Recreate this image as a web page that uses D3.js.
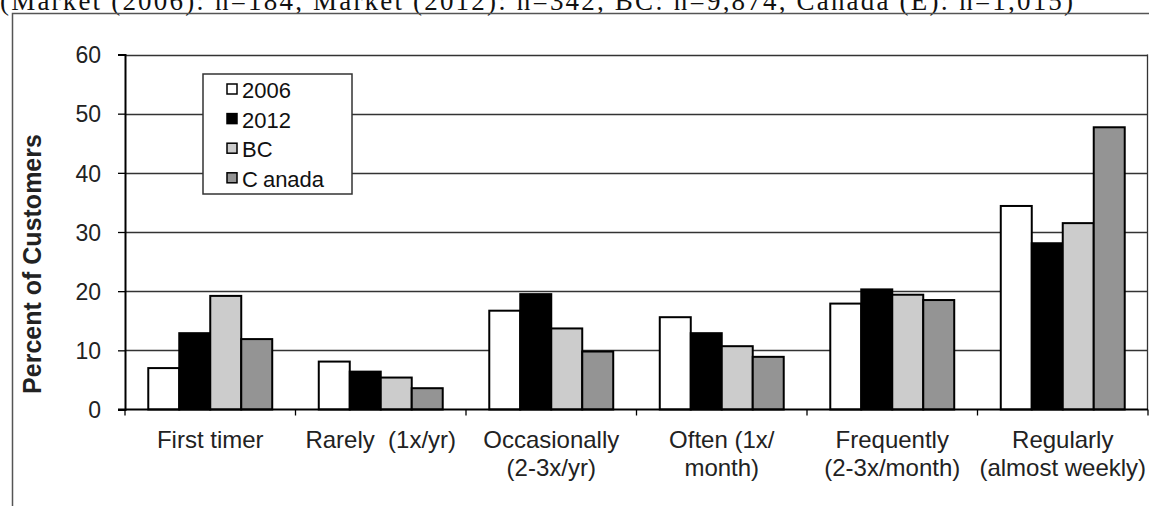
<!DOCTYPE html>
<html><head><meta charset="utf-8">
<script src="https://cdn.jsdelivr.net/npm/d3@7"></script>
<style>html,body{margin:0;padding:0;background:#fff;overflow:hidden}</style>
</head><body>
<script>
const categories = [
  ["First timer"],
  ["Rarely  (1x/yr)"],
  ["Occasionally", "(2-3x/yr)"],
  ["Often (1x/", "month)"],
  ["Frequently", "(2-3x/month)"],
  ["Regularly", "(almost weekly)"]
];
const seriesNames = ["2006", "2012", "BC", "Canada"];
const values2006   = [7.0, 8.1, 16.7, 15.6, 17.9, 34.4];
const values2012   = [12.9, 6.4, 19.5, 12.9, 20.3, 28.1];
const valuesBC     = [19.2, 5.4, 13.7, 10.7, 19.4, 31.5];
const valuesCanada = [11.9, 3.6, 9.8, 8.9, 18.5, 47.7];
const yTicks = [0, 10, 20, 30, 40, 50, 60];
const headerText = "(Market (2006): n=184, Market (2012): n=342, BC: n=9,874, Canada (E): n=1,015)";

const colors = ["#ffffff", "#000000", "#cccccc", "#949494"];
const seriesValues = [values2006, values2012, valuesBC, valuesCanada];

const W = 1149, H = 506;
const svg = d3.select("body").append("svg").attr("width", W).attr("height", H);

// header (cut off at top, as in the reference)
svg.append("text").attr("x", 0).attr("y", 10)
  .attr("font-family", "Liberation Serif, Times New Roman, serif")
  .attr("font-size", 27).attr("fill", "#111")
  .attr("textLength", 1073).attr("lengthAdjust", "spacing")
  .text(headerText);

// outer frame
svg.append("path").attr("d", `M12.5,${H} V13.5 H${W}`)
  .attr("fill", "none").attr("stroke", "#555").attr("stroke-width", 1.5);

const x0 = 125, x1 = 1148, yTop = 54.5, yBot = 409.5;
const cats = categories.map(c => c.join(" "));
const x = d3.scaleBand().domain(cats).range([x0, x1]).paddingInner(0.273).paddingOuter(0.1365);
const xs = d3.scaleBand().domain(seriesNames).range([0, x.bandwidth()]);
const y = d3.scaleLinear().domain([0, 60]).range([yBot, yTop]);

// gridlines
svg.append("g").selectAll("line").data(yTicks.filter(d => d > 0)).join("line")
  .attr("x1", x0).attr("x2", x1)
  .attr("y1", d => Math.round(y(d)) + 0.5).attr("y2", d => Math.round(y(d)) + 0.5)
  .attr("stroke", "#333").attr("stroke-width", 1.3);

// right border of plot
svg.append("line").attr("x1", x1 - 0.5).attr("x2", x1 - 0.5).attr("y1", yTop).attr("y2", yBot)
  .attr("stroke", "#333").attr("stroke-width", 1.3);

// bars
const g = svg.append("g");
seriesNames.forEach((s, si) => {
  g.append("g").selectAll("rect").data(seriesValues[si]).join("rect")
    .attr("x", (d, i) => x(cats[i]) + xs(s))
    .attr("y", d => y(d))
    .attr("width", xs.bandwidth())
    .attr("height", d => yBot - y(d))
    .attr("fill", colors[si])
    .attr("stroke", "#000").attr("stroke-width", 2);
});

// y axis
const yAxis = svg.append("g").attr("transform", `translate(${x0},0)`)
  .call(d3.axisLeft(y).tickValues(yTicks).tickSize(7).tickPadding(0).tickFormat(d3.format("d")));
yAxis.select(".domain").attr("stroke", "#000").attr("stroke-width", 2);
yAxis.selectAll(".tick line").attr("stroke", "#000").attr("stroke-width", 1.3);
yAxis.selectAll(".tick text").attr("x", -24).attr("dy", "0.36em")
  .attr("font-family", "Liberation Sans, Arial, sans-serif").attr("font-size", 23).attr("fill", "#222");

// x axis
const xAxisG = svg.append("g").attr("transform", `translate(0,${yBot})`);
xAxisG.append("line").attr("x1", x0 - 7).attr("x2", x1).attr("y1", 0).attr("y2", 0)
  .attr("stroke", "#000").attr("stroke-width", 2);
const boundaries = d3.range(cats.length + 1).map(i => x0 + i * x.step());
xAxisG.selectAll(".bt").data(boundaries).join("line").attr("class", "bt")
  .attr("x1", d => d).attr("x2", d => d).attr("y1", 0).attr("y2", 6)
  .attr("stroke", "#000").attr("stroke-width", 1.3);

const lbl = svg.append("g").attr("font-family", "Liberation Sans, Arial, sans-serif")
  .attr("font-size", 24).attr("fill", "#222").attr("text-anchor", "middle");
categories.forEach((lines, i) => {
  const t = lbl.append("text").attr("x", x(cats[i]) + x.bandwidth() / 2).attr("y", 448);
  lines.forEach((ln, k) => {
    t.append("tspan").attr("x", x(cats[i]) + x.bandwidth() / 2).attr("dy", k === 0 ? 0 : 27.5)
      .attr("xml:space", "preserve").style("white-space", "pre").text(ln);
  });
});

// y title
svg.append("text").attr("transform", `translate(41,264) rotate(-90)`)
  .attr("text-anchor", "middle").attr("font-family", "Liberation Sans, Arial, sans-serif")
  .attr("font-weight", "bold").attr("font-size", 25).attr("fill", "#222")
  .text("Percent of Customers");

// legend
const leg = svg.append("g");
leg.append("rect").attr("x", 203).attr("y", 74).attr("width", 149).attr("height", 120)
  .attr("fill", "#fff").attr("stroke", "#333").attr("stroke-width", 1.5);
seriesNames.forEach((s, i) => {
  const cy = 89.5 + i * 29.6;
  leg.append("rect").attr("x", 227).attr("y", cy - 5.5).attr("width", 10).attr("height", 10)
    .attr("fill", colors[i]).attr("stroke", "#000").attr("stroke-width", 1.5);
  const t = leg.append("text").attr("x", 242).attr("y", cy + 8.5)
    .attr("font-family", "Liberation Sans, Arial, sans-serif").attr("font-size", 22).attr("fill", "#111");
  if (s === "Canada") {
    t.append("tspan").text("C");
    t.append("tspan").attr("dx", 5).text("anada");
  } else t.text(s);
});
</script>
</body></html>
